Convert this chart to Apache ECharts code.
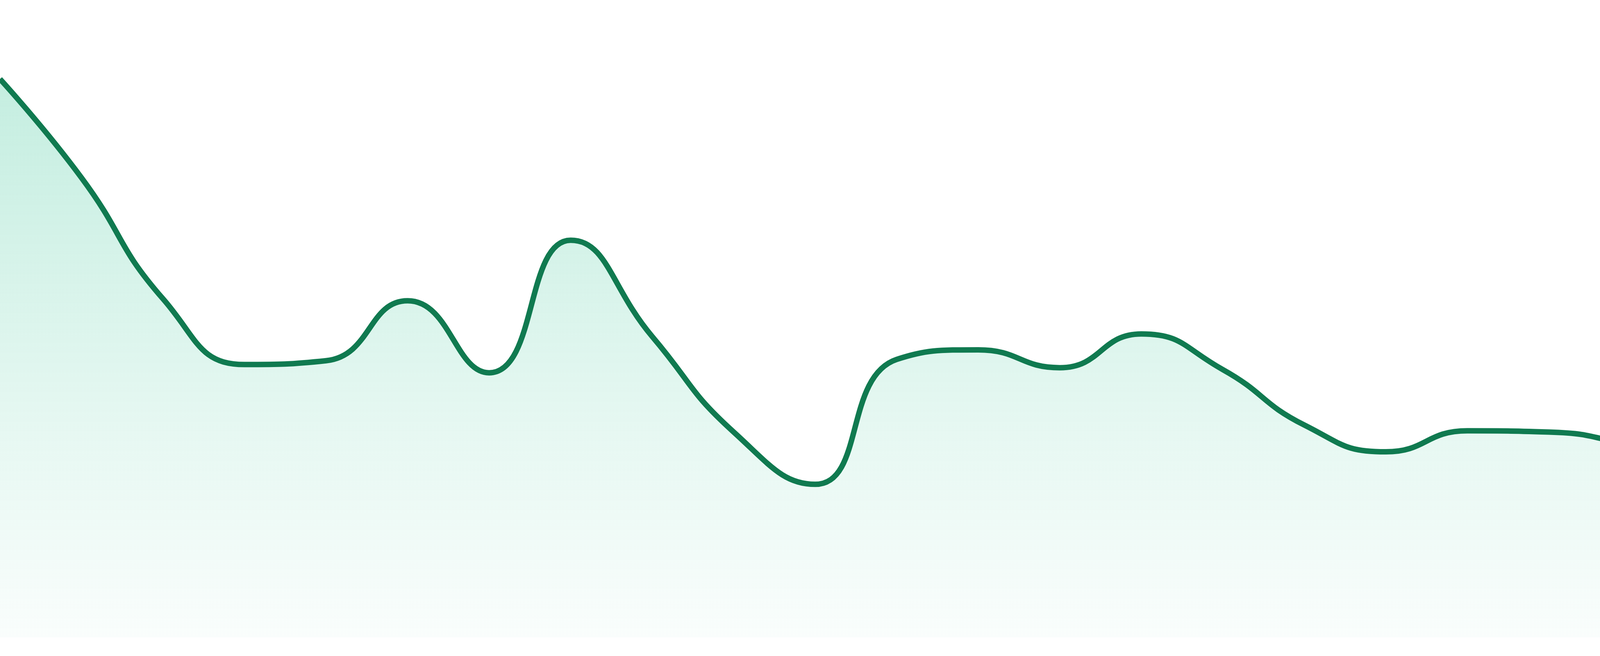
<!DOCTYPE html>
<html>
<head>
<meta charset="utf-8">
<style>
  html, body { margin: 0; padding: 0; background: #fff; }
  #chart { width: 4800px; height: 1680px; }
</style>
<script src="https://cdn.jsdelivr.net/npm/echarts@6/dist/echarts.min.js"></script>
</head>
<body>
<div id="chart"></div>
<script>
// 数据
const categories = ['1', '2', '3', '4', '5', '6', '7', '8', '9', '10', '11', '12',
  '13', '14', '15', '16', '17', '18', '19', '20', '21', '22', '23', '24']
const values = [87.6, 72.1, 53.1, 42.8, 43.4, 52.8, 41.5, 62.3, 47.2, 32.2, 24.0, 43.6,
  45.1, 42.3, 47.6, 42.0, 33.3, 29.1, 32.4, 32.2, 30.1, 26.7, 25.6, 25.9]

const chart = echarts.init(document.getElementById('chart'))
chart.setOption({
  animation: false,
  grid: { top: 0, left: 0, right: 0, bottom: 48 },
  xAxis: {
    type: 'category',
    data: categories,
    boundaryGap: false,
    show: false,
  },
  yAxis: { type: 'value', min: 0, max: 100, show: false },
  series: [
    {
      type: 'line',
      smooth: true,
      showSymbol: false,
      data: values,
      lineStyle: { color: '#107a50', width: 14 },
      areaStyle: {
        color: {
          type: 'linear',
          x: 0,
          y: 0,
          x2: 0,
          y2: 1,
          colorStops: [
            { offset: 0, color: 'rgba(16,185,129,0.35)' },
            { offset: 1, color: 'rgba(16,185,129,0.03)' },
          ],
        },
      },
    },
  ],
})
</script>
</body>
</html>
